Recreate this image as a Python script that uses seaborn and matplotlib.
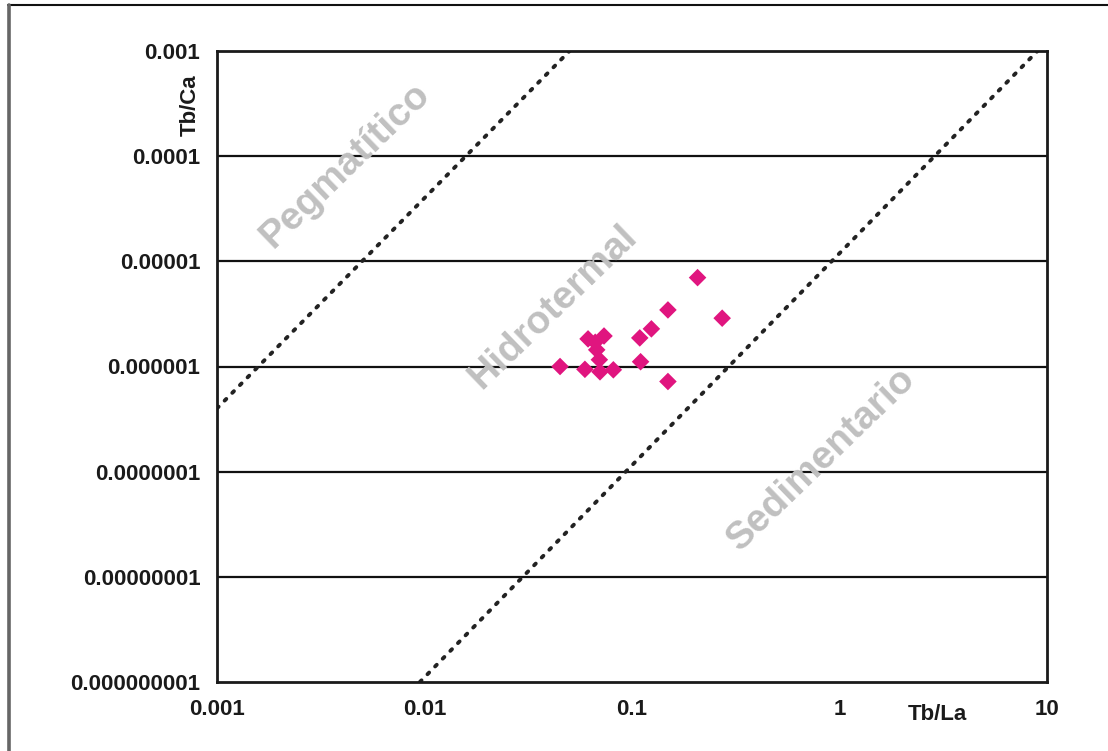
import matplotlib
matplotlib.use("Agg")
import matplotlib.pyplot as plt
import matplotlib.ticker as mticker
from matplotlib.lines import Line2D
import numpy as np
import pandas as pd
import seaborn as sns

# Sample ratios
tb_la = [0.045, 0.0593, 0.0614, 0.0665, 0.0733, 0.0676, 0.0696, 0.0701, 0.0813,
         0.109, 0.110, 0.124, 0.149, 0.149, 0.207, 0.272]
tb_ca = [1.0e-6, 9.4e-7, 1.83e-6, 1.7e-6, 1.95e-6, 1.44e-6, 1.16e-6, 8.9e-7, 9.3e-7,
         1.87e-6, 1.11e-6, 2.28e-6, 3.45e-6, 7.2e-7, 7.0e-6, 2.88e-6]

# Field boundaries (end points of each dotted line)
peg_x = [0.001, 0.05]
peg_y = [4.0e-7, 1.0e-3]
sed_x = [0.0095, 9.0]
sed_y = [1.0e-9, 1.0e-3]

x_ticks = [0.001, 0.01, 0.1, 1, 10]
x_labels = ["0.001", "0.01", "0.1", "1", "10"]
y_ticks = [1e-9, 1e-8, 1e-7, 1e-6, 1e-5, 1e-4, 1e-3]
y_labels = ["0.000000001", "0.00000001", "0.0000001", "0.000001",
            "0.00001", "0.0001", "0.001"]

fields = ["Pegmatítico", "Hidrotermal", "Sedimentario"]
field_x = [0.00414, 0.0414, 0.823]
field_y = [8.2e-5, 3.69e-6, 1.31e-7]

sns.set_style("white")
plt.rcParams["font.family"] = ["Liberation Sans", "DejaVu Sans"]
plt.rcParams["font.weight"] = "bold"

fig = plt.figure(figsize=(11.08, 7.51), dpi=100)
ax = fig.add_axes([217 / 1108, 1 - 682 / 751, 830 / 1108, 631 / 751])
ax.set_xscale("log")
ax.set_yscale("log")
ax.set_xlim(0.001, 10)
ax.set_ylim(1e-9, 1e-3)

for yv in y_ticks[1:-1]:
    ax.axhline(yv, color="#111111", lw=1.6, zorder=1)

for xs, ys in [(peg_x, peg_y), (sed_x, sed_y)]:
    df_line = pd.DataFrame({"x": xs, "y": ys})
    sns.lineplot(data=df_line, x="x", y="y", ax=ax, color="#222222", lw=2.8,
                 linestyle=(0, (0.6, 2.2)), dash_capstyle="round",
                 zorder=2, legend=False)

for label, fx, fy in zip(fields, field_x, field_y):
    ax.text(fx, fy, label, fontsize=28, fontweight="bold", color="#c0c0c0",
            rotation=44, rotation_mode="anchor", ha="center", va="center", zorder=1.5)

df = pd.DataFrame({"Tb/La": tb_la, "Tb/Ca": tb_ca})
sns.scatterplot(data=df, x="Tb/La", y="Tb/Ca", ax=ax, marker="D", s=80,
                color="#e0157f", edgecolor="none", zorder=3, legend=False)

ax.set_xticks(x_ticks)
ax.set_xticklabels(x_labels)
ax.set_yticks(y_ticks)
ax.set_yticklabels(y_labels)
ax.xaxis.set_minor_locator(mticker.LogLocator(base=10, subs=np.arange(2, 10), numticks=20))
ax.yaxis.set_minor_locator(mticker.LogLocator(base=10, subs=np.arange(2, 10), numticks=20))
ax.xaxis.set_minor_formatter(mticker.NullFormatter())
ax.yaxis.set_minor_formatter(mticker.NullFormatter())
ax.tick_params(axis="both", which="major", direction="in", length=4, width=1.6,
               labelsize=16, colors="#1a1a1a")
ax.tick_params(axis="x", which="major", pad=12)
ax.tick_params(axis="y", which="major", pad=12)
ax.tick_params(axis="both", which="minor", direction="in", length=3.5, width=1.6,
               colors="#1a1a1a")
for lab in ax.get_xticklabels() + ax.get_yticklabels():
    lab.set_fontweight("bold")
for lab in ax.get_yticklabels():
    lab.set_verticalalignment("center_baseline")

for side in ["left", "bottom", "right", "top"]:
    ax.spines[side].set_visible(True)
    ax.spines[side].set_color("#1a1a1a")
    ax.spines[side].set_linewidth(2.0)

ax.set_xlabel("Tb/La", fontsize=16, fontweight="bold", color="#1a1a1a")
ax.xaxis.set_label_coords(0.8675, -0.035)
ax.set_ylabel("Tb/Ca", fontsize=16, fontweight="bold", color="#1a1a1a")
ax.yaxis.set_label_coords(-0.02, 0.914)

# Outer frame: top and left edges
fig.add_artist(Line2D([8 / 1108, 1.0], [1 - 5 / 751, 1 - 5 / 751],
                      transform=fig.transFigure, color="#111111", lw=1.5))
fig.add_artist(Line2D([9 / 1108, 9 / 1108], [0.0, 1 - 5 / 751],
                      transform=fig.transFigure, color="#666666", lw=2.6))

fig.savefig("out.png", dpi=100)
